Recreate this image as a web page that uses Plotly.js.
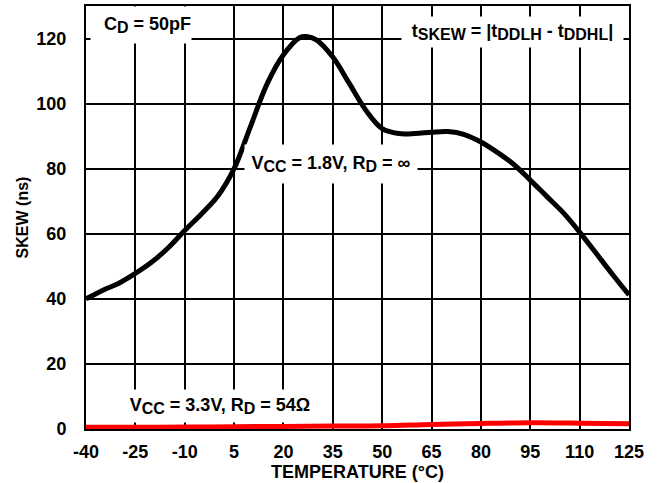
<!DOCTYPE html>
<html>
<head>
<meta charset="utf-8">
<script src="https://cdn.plot.ly/plotly-3.0.1.min.js"></script>
<style>html,body{margin:0;padding:0;background:#fff;}#chart{width:657px;height:483px;}</style>
</head>
<body>
<div id="chart"></div>
<script>
// Temperature (°C) and skew (ns)
const temp18 = [-40, -35, -30, -25, -20, -15, -10, -5, 0, 5, 10, 15, 20, 25, 27, 30, 35, 40, 45, 50, 55, 60, 65, 70, 75, 80, 85, 90, 95, 100, 105, 110, 115, 120, 125];
const skew18 = [40, 42.6, 44.8, 47.8, 51.3, 55.7, 61, 66, 71.5, 80, 93, 106, 115, 120.3, 120.6, 119.6, 114.3, 106.2, 98, 92.3, 90.8, 90.8, 91.2, 91.4, 90.5, 88.2, 85, 81.3, 76.5, 71.5, 66.5, 60.5, 54, 47.5, 41.2];
const temp33 = [-40, -25, -10, 5, 20, 35, 50, 65, 80, 95, 110, 125];
const skew33 = [0.5, 0.5, 0.6, 0.7, 0.8, 0.9, 1.0, 1.4, 1.7, 1.9, 1.8, 1.6];
const yTicks = [0, 20, 40, 60, 80, 100, 120];
const xTicks = [-40, -25, -10, 5, 20, 35, 50, 65, 80, 95, 110, 125];

const FONT = "Liberation Sans, Arial, Helvetica, sans-serif";

const traces = [
  {x: temp18, y: skew18, type: 'scatter', mode: 'lines',
   line: {color: '#000000', width: 5, shape: 'spline', smoothing: 1.0}, hoverinfo: 'none'},
  {x: temp33, y: skew33, type: 'scatter', mode: 'lines', cliponaxis: false,
   line: {color: '#ff0000', width: 5, shape: 'spline'}, hoverinfo: 'none'}
];

function sub(s) {
  return '<sub><span style="font-size:16px">' + s + '</span></sub>';
}

function note(text, x, y, w, h, align) {
  return {text: '<b>' + text + '</b>', x: x, y: y, xref: 'x', yref: 'y',
    showarrow: false, xanchor: 'center', yanchor: 'middle', align: align || 'center',
    bgcolor: '#ffffff', width: w, height: h, borderpad: 0,
    font: {family: FONT, size: 18, color: '#000000'}};
}

const layout = {
  width: 657, height: 483,
  margin: {l: 86, r: 28, t: 6, b: 54, pad: 0},
  paper_bgcolor: '#ffffff', plot_bgcolor: '#ffffff',
  showlegend: false,
  font: {family: FONT, color: '#000000'},
  xaxis: {
    range: [-40, 125], tickvals: xTicks, ticktext: xTicks.map(String),
    showgrid: true, gridcolor: '#000000', gridwidth: 2,
    showline: true, linecolor: '#000000', linewidth: 2, mirror: true,
    zeroline: false, ticks: '', ticklabelstandoff: 5,
    tickfont: {family: FONT, size: 18, color: '#000000', weight: 'bold'},
    title: {text: '<b>TEMPERATURE (°C)</b>', font: {family: FONT, size: 18, color: '#000000'}, standoff: 1}
  },
  yaxis: {
    range: [0, 130], tickvals: yTicks, ticktext: yTicks.map(String),
    showgrid: true, gridcolor: '#000000', gridwidth: 2,
    showline: true, linecolor: '#000000', linewidth: 2, mirror: true,
    zeroline: false, ticks: '', ticklabelstandoff: 14,
    tickfont: {family: FONT, size: 18, color: '#000000', weight: 'bold'},
    title: {text: '<b>SKEW (ns)</b>', font: {family: FONT, size: 16, color: '#000000'}, standoff: 4}
  },
  annotations: [
    note('C' + sub('D') + ' = 50pF', -23.3, 124.2, 100, 36, 'right'),
    note('t' + sub('SKEW') + ' = |t' + sub('DDLH') + ' - t' + sub('DDHL') + '|', 89.6, 122.1, 221, 30),
    note('V' + sub('CC') + ' = 1.8V, R' + sub('D') + ' = ∞', 34.4, 81.4, 172, 38),
    note('V' + sub('CC') + ' = 3.3V, R' + sub('D') + ' = 54Ω', 0.7, 7.0, 196, 32)
  ]
};

Plotly.newPlot('chart', traces, layout, {staticPlot: true, displayModeBar: false});
</script>
</body>
</html>
